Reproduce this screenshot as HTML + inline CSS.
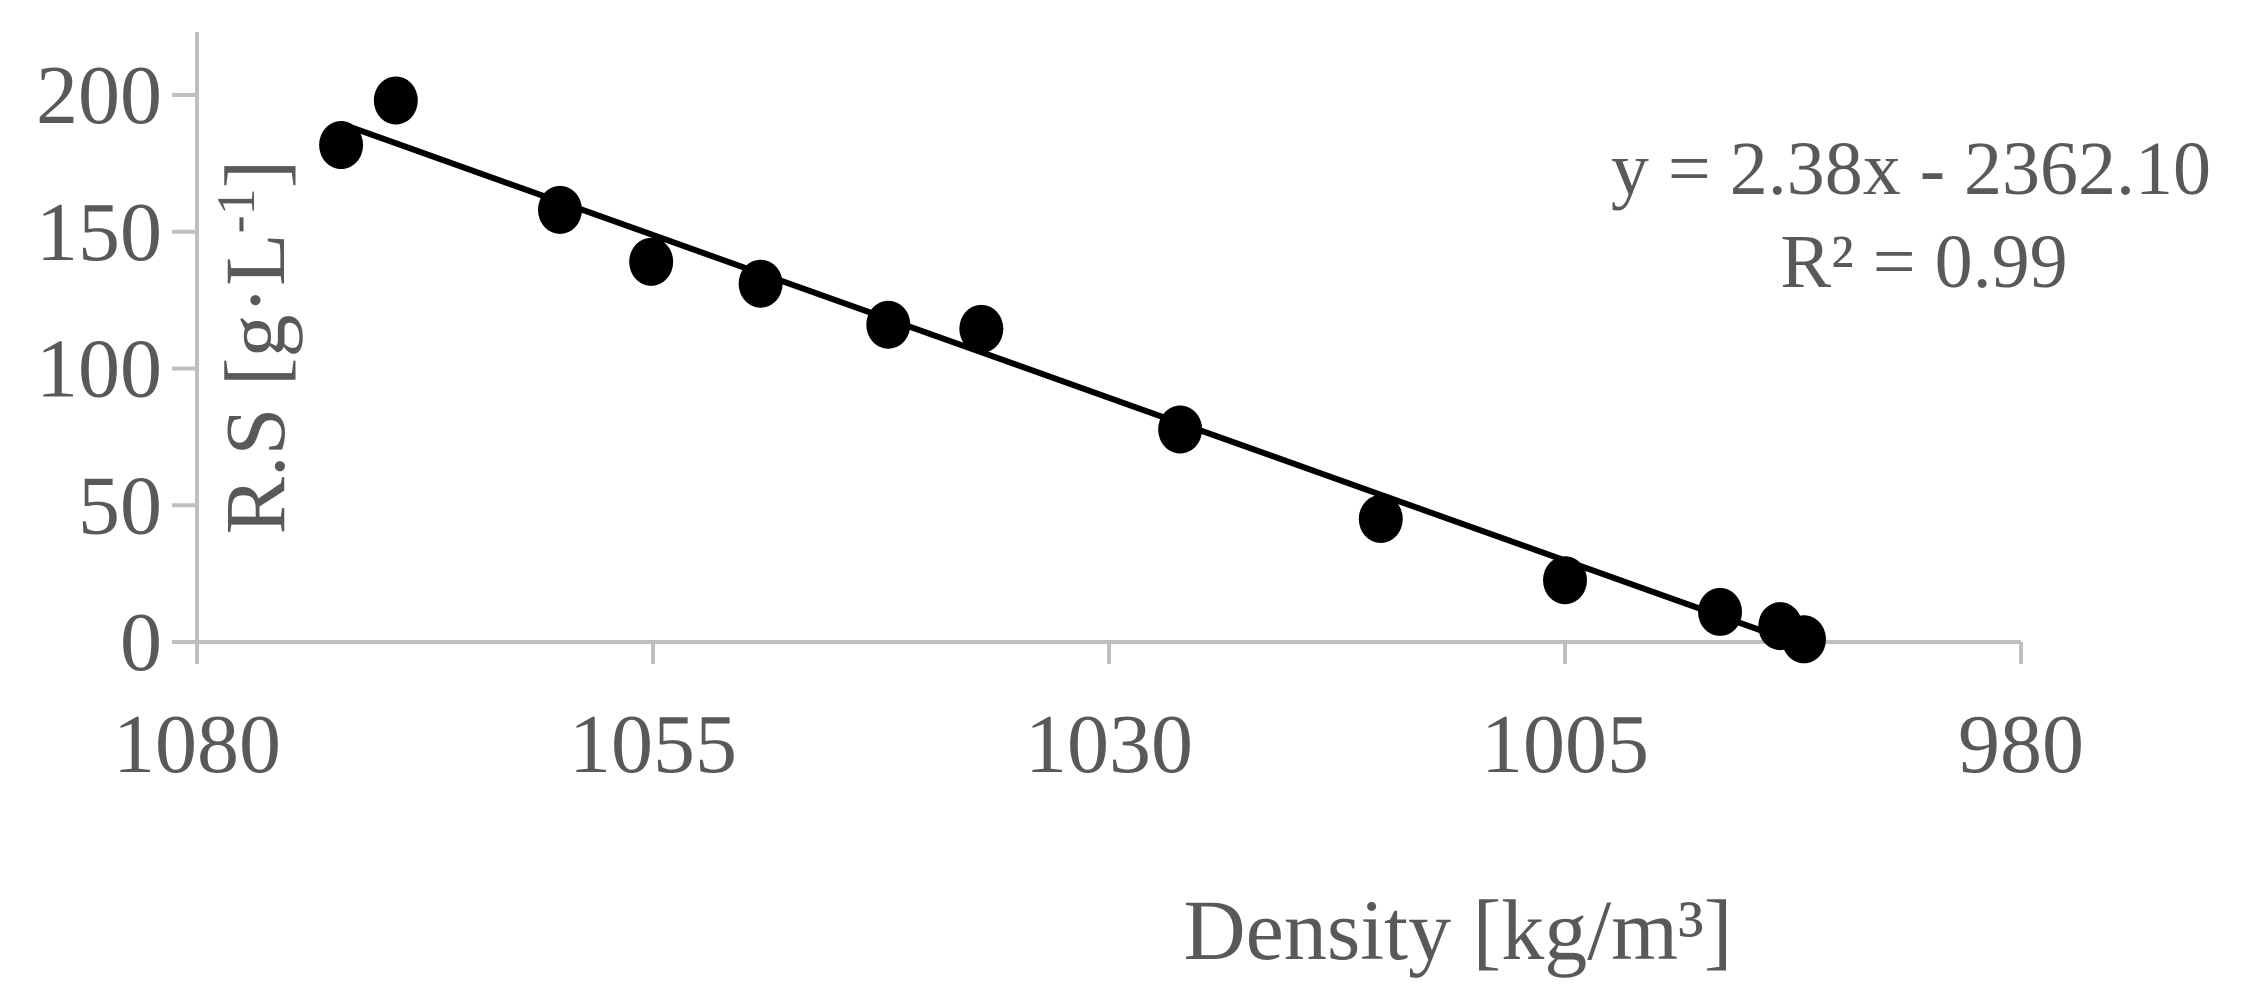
<!DOCTYPE html>
<html><head><meta charset="utf-8"><style>
html,body{margin:0;padding:0;background:#fff;}
svg{display:block;}
text{font-family:"Liberation Serif",serif;fill:#595959;}
</style></head><body>
<svg id="chart" width="2251" height="1003" viewBox="0 0 2251 1003" xmlns="http://www.w3.org/2000/svg">
<g id="axes"></g>
<g id="marks"></g>
<text x="2211" y="194" text-anchor="end" font-size="76">y = 2.38x - 2362.10</text>
<text x="1924" y="287" text-anchor="middle" font-size="76">R² = 0.99</text>
<text x="1458" y="959" text-anchor="middle" font-size="86">Density [kg/m³]</text>
<text transform="translate(284,347) rotate(-90)" text-anchor="middle" font-size="86">R.S [g·L<tspan font-size="54" dy="-30">-1</tspan><tspan dy="30">]</tspan></text>
</svg>
<script>
const densities=[1072.1,1069.1,1060.1,1055.1,1049.1,1042.1,1037.0,1026.1,1015.1,1005.0,996.5,993.2,991.9];
const rsValues=[181.7,198,158,139,131,116,114.5,77.7,45,22.6,11,5.8,1];
const xTicks=[1080,1055,1030,1005,980];
const yTicks=[0,50,100,150,200];
const slope=2.38, intercept=-2362.10;

const NS='http://www.w3.org/2000/svg';
function xs(v){return 197+(1080-v)/25*456;}
function ys(v){return 642-v/50*136.75;}
function mk(tag,attrs,parent){const e=document.createElementNS(NS,tag);for(const k in attrs)e.setAttribute(k,attrs[k]);parent.appendChild(e);return e;}
const axes=document.getElementById('axes'), marks=document.getElementById('marks');

let e=mk('line',{x1:197,y1:32,x2:197,y2:642,stroke:'#bfbfbf','stroke-width':4},axes);


e=mk('line',{x1:197,y1:642,x2:2021,y2:642,stroke:'#bfbfbf','stroke-width':4},axes);



yTicks.forEach(v=>{
  const t=mk('line',{x1:172,y1:ys(v),x2:197,y2:ys(v),stroke:'#bfbfbf','stroke-width':4},axes);
  
  
  const l=mk('text',{x:162,y:ys(v)+28,'text-anchor':'end','font-size':84},axes);
  l.textContent=v;
  
  
});
xTicks.forEach(v=>{
  const t=mk('line',{x1:xs(v),y1:642,x2:xs(v),y2:664,stroke:'#bfbfbf','stroke-width':4},axes);
  
  
  const l=mk('text',{x:xs(v),y:772,'text-anchor':'middle','font-size':84},axes);
  l.textContent=v;
  
  
});

const xmin=Math.min(...densities), xmax=Math.max(...densities);
const tl=mk('line',{x1:xs(xmax),y1:ys(slope*xmax+intercept),x2:xs(xmin),y2:ys(slope*xmin+intercept),stroke:'#000','stroke-width':6},marks);



densities.forEach((d,i)=>{
  const c=mk('ellipse',{cx:xs(d),cy:ys(rsValues[i]),rx:22,ry:24,fill:'#000'},marks);
  
  
});
</script>
</body></html>
